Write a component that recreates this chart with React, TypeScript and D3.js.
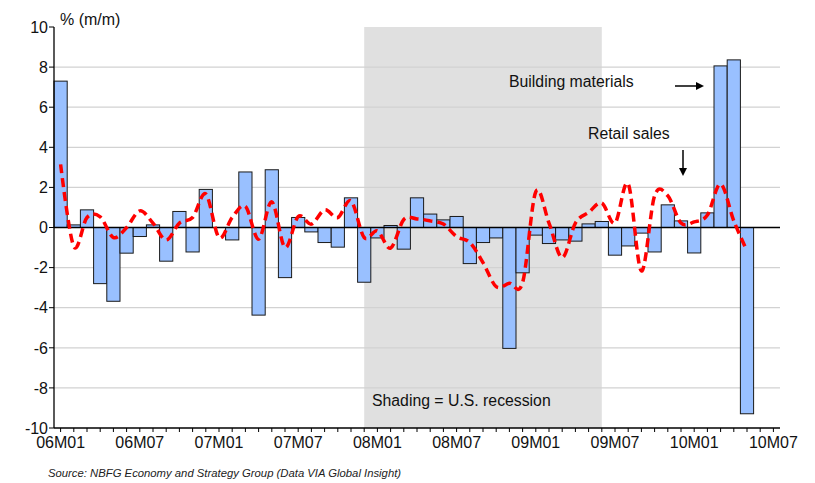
import React from 'react';
import * as d3 from 'd3';

// months 06M01 .. 10M07 on the axis, data runs to 10M05
const YEARS = ['06', '07', '08', '09', '10'];
const MONTHS = YEARS.flatMap(y => d3.range(1, 13).map(m => `${y}M${m < 10 ? '0' + m : m}`)).slice(0, 55);
const TICK_LABELS = ['06M01', '06M07', '07M01', '07M07', '08M01', '08M07', '09M01', '09M07', '10M01', '10M07'];

const buildingMaterials = [
  7.3, 0.13, 0.88, -2.8, -3.68, -1.28, -0.45, 0.13, -1.68, 0.8, -1.22, 1.9,
  0, -0.62, 2.77, -4.37, 2.88, -2.5, 0.5, -0.22, -0.75, -0.98, 1.48, -2.73,
  -0.52, 0.1, -1.08, 1.48, 0.67, 0.38, 0.55, -1.8, -0.75, -0.52, -6.03, -2.26,
  -0.38, -0.8, -0.62, -0.68, 0.18, 0.3, -1.38, -0.92, -0.28, -1.22, 1.13, 0.33,
  -1.27, 0.73, 8.06, 8.36, -9.29,
];

const retailSales = [
  3.15, -0.95, 0.5, 0.53, -0.5, 0.0, 0.83, 0.22, -0.62, 0.22, 0.5, 1.67,
  -0.5, 0.5, 1.05, -0.58, 1.28, -1.0, 0.55, 0.17, 0.88, 0.5, 1.33, -0.5,
  -0.17, -1.03, 0.4, 0.43, 0.33, 0.17, -0.45, -0.75, -1.75, -2.95, -2.78, -2.75,
  1.78, 0.22, -1.5, 0.22, 0.75, 1.22, 0.22, 2.17, -2.17, 1.58, 1.58, 0.22,
  0.28, 0.62, 2.17, 0.33, -1.17,
];

const Y_TICKS = [10, 8, 6, 4, 2, 0, -2, -4, -6, -8, -10];
const RECESSION = ['07M12', '09M06'];

const FONT = "'Liberation Sans', Arial, sans-serif";

export default function App() {
  const left = 54, right = 780, top = 27, bottom = 428;

  const x = d3.scaleBand().domain(MONTHS).range([left, right]).padding(0);
  const y = d3.scaleLinear().domain([-10, 10]).range([bottom, top]);
  const cx = (m: string) => (x(m) as number) + x.bandwidth() / 2;

  const line = d3.line<number>()
    .x((d, i) => cx(MONTHS[i]))
    .y(d => y(d))
    .curve(d3.curveCardinal.tension(0));

  return (
    <svg width={815} height={483} style={{ position: 'absolute', left: 0, top: 0, background: '#fff' }}
      fontFamily={FONT}>
      {/* recession shading */}
      <rect x={cx(RECESSION[0])} y={top} width={cx(RECESSION[1]) - cx(RECESSION[0])}
        height={bottom - top} fill='#e0e0e0' />

      {/* gridlines */}
      {Y_TICKS.filter(t => t !== 0 && t !== 10 && t !== -10).map(t => (
        <line key={'g' + t} x1={left} x2={right} y1={y(t)} y2={y(t)} stroke='#d2d2d2' strokeWidth={1.2} />
      ))}

      {/* bars */}
      {buildingMaterials.map((v, i) => (
        <rect key={'b' + i}
          x={x(MONTHS[i])}
          y={y(Math.max(0, v))}
          width={x.bandwidth()}
          height={Math.abs(y(v) - y(0))}
          fill='#99c0ff' stroke='#1a1a1a' strokeWidth={1} />
      ))}

      {/* zero line */}
      <line x1={left} x2={right} y1={y(0)} y2={y(0)} stroke='#000' strokeWidth={1.3} />

      {/* retail sales */}
      <path d={line(retailSales) || ''} fill='none' stroke='#ff0000' strokeWidth={3.5}
        strokeDasharray='9,5' strokeLinejoin='round' />

      {/* y axis */}
      <line x1={left} x2={left} y1={top} y2={bottom} stroke='#000' strokeWidth={1.3} />
      {Y_TICKS.map(t => (
        <g key={'y' + t}>
          <line x1={left - 5} x2={left} y1={y(t)} y2={y(t)} stroke='#000' />
          <text x={left - 6} y={y(t)} dy='0.36em' textAnchor='end' fontSize={16} fill='#111'>{t}</text>
        </g>
      ))}
      <text x={60} y={25} fontSize={16} fill='#111'>% (m/m)</text>

      {/* x axis */}
      <line x1={left} x2={right} y1={bottom} y2={bottom} stroke='#000' strokeWidth={1.3} />
      {MONTHS.map(m => (
        <line key={'t' + m} x1={cx(m)} x2={cx(m)} y1={bottom} y2={bottom + 4} stroke='#000' />
      ))}
      {TICK_LABELS.map(m => (
        <text key={'l' + m} x={cx(m)} y={448} textAnchor='middle' fontSize={16} fill='#111'>{m}</text>
      ))}

      {/* annotations */}
      <text x={509} y={87} fontSize={15.8} fill='#111'>Building materials</text>
      <line x1={675} x2={698} y1={86} y2={86} stroke='#000' strokeWidth={1.5} />
      <path d='M696,82 L704,86 L696,90 Z' fill='#000' />
      <text x={588} y={139} fontSize={15.8} fill='#111'>Retail sales</text>
      <line x1={683} x2={683} y1={150} y2={170} stroke='#000' strokeWidth={1.5} />
      <path d='M679,168 L683,176 L687,168 Z' fill='#000' />
      <text x={372} y={406} fontSize={15.8} fill='#111'>Shading = U.S. recession</text>

      <text x={48} y={477} fontSize={11.3} fontStyle='italic' fill='#222'>
        Source: NBFG Economy and Strategy Group (Data VIA Global Insight)
      </text>
    </svg>
  );
}
